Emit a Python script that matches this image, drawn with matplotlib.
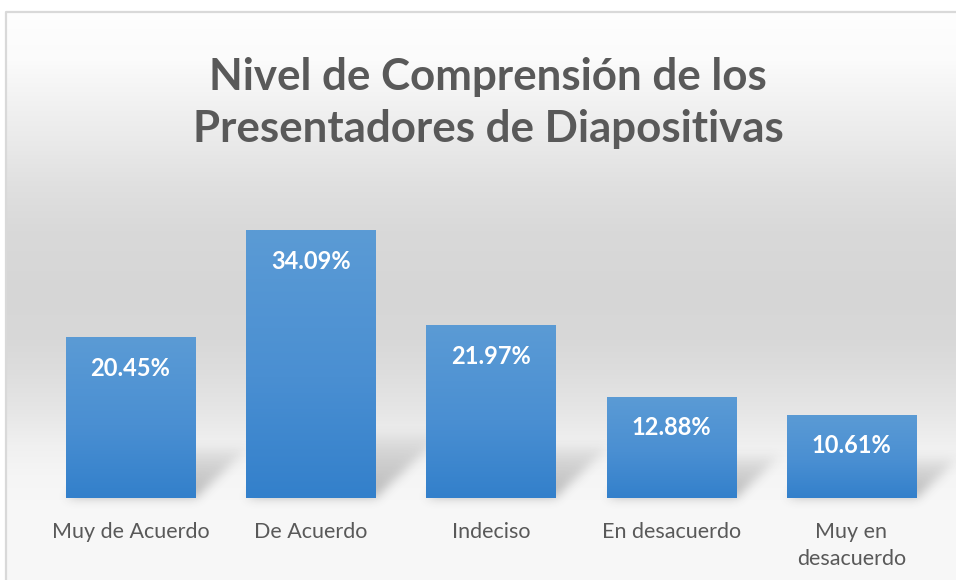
import numpy as np
import matplotlib
matplotlib.use("Agg")
import matplotlib.pyplot as plt
from matplotlib.colors import LinearSegmentedColormap

# ---------------- data ----------------
categories = ["Muy de Acuerdo", "De Acuerdo", "Indeciso", "En desacuerdo", "Muy en\ndesacuerdo"]
values = [20.45, 34.09, 21.97, 12.88, 10.61]
value_labels = ["20.45%", "34.09%", "21.97%", "12.88%", "10.61%"]
title_lines = ["Nivel de Comprensión de los", "Presentadores de Diapositivas"]

# ---------------- styling ----------------
W, H = 956, 580
FONT = ["Lato", "DejaVu Sans"]
TXT = "#595959"

fig = plt.figure(figsize=(W / 100, H / 100), dpi=100)
fig.patch.set_facecolor("white")

# background (chart area gradient + border)
bg = fig.add_axes([0, 0, 1, 1])
bg.set_axis_off()
bg.set_xlim(0, W)
bg.set_ylim(H, 0)
stops_y = [12, 60, 100, 150, 185, 230, 290, 340, 370, 410, 445, 475, 500, 580]
stops_v = [254, 251, 242, 232, 224, 217, 214, 216, 221, 230, 240, 245, 247, 248]
ys = np.arange(12, H)
gray = np.interp(ys, stops_y, stops_v) / 255.0
img = np.repeat(np.repeat(gray[:, None], W - 6, axis=1)[:, :, None], 3, axis=2)
bg.imshow(img, extent=(6, W, H, 12), aspect="auto", interpolation="bilinear", zorder=0)
bg.plot([6, 6, W + 5], [H + 5, 12, 12], color="#d9d9d9", lw=1.6, zorder=1, solid_capstyle="butt")

# main axes
left_px, right_px = 40.4, 941.6
base_px, top_px = 498.0, 183.6
ax = fig.add_axes([left_px / W, (H - base_px) / H, (right_px - left_px) / W, (base_px - top_px) / H])
ax.patch.set_alpha(0)
XMIN, XMAX, YMIN, YMAX = -0.5, 4.5, 0, 40
pxx = (right_px - left_px) / (XMAX - XMIN)
pxy = (base_px - top_px) / (YMAX - YMIN)

x = np.arange(len(categories))
bw = 0.716
bars = ax.bar(x, values, width=bw, color="#4a8fd2", zorder=3, linewidth=0)

# gradient fill for bars
cmap = LinearSegmentedColormap.from_list("barg", [(0, "#3380cb"), (0.45, "#4a8fd2"), (1, "#5b9bd5")])
grad = np.linspace(0, 1, 256)[:, None]
for xi, v, b in zip(x, values, bars):
    im = ax.imshow(grad, extent=(xi - bw / 2, xi + bw / 2, 0, v), origin="lower",
                   cmap=cmap, aspect="auto", zorder=3.5, interpolation="bilinear")
    im.set_clip_path(b)


def gblur(a, s):
    r = int(3 * s)
    k = np.exp(-0.5 * (np.arange(-r, r + 1) / s) ** 2)
    k /= k.sum()
    a = np.apply_along_axis(lambda m: np.convolve(m, k, mode="same"), 0, a)
    a = np.apply_along_axis(lambda m: np.convolve(m, k, mode="same"), 1, a)
    return a


# perspective shadows behind bars
for xi, v in zip(x, values):
    h_px = v * pxy
    hs = 30 + 0.13 * h_px
    dx = hs * 1.05
    w_px = bw * pxx
    padl, padb = 20, 12
    nx = int(w_px + dx + 45)
    ny = int(hs + 30)
    uu, vv = np.meshgrid(np.arange(nx) - padl, np.arange(ny) - padb)
    shift = vv * dx / hs
    inside = (vv >= 0) & (vv <= hs) & (uu >= shift) & (uu <= w_px + shift)
    prof = np.clip(1 - vv / hs, 0, 1) ** 0.6
    a = gblur(inside * prof, 5.0)
    rgba = np.zeros((ny, nx, 4))
    rgba[..., :3] = 0.25
    rgba[..., 3] = a * 0.33
    l = xi - bw / 2 - padl / pxx
    ax.imshow(rgba, extent=(l, l + nx / pxx, -padb / pxy, (ny - padb) / pxy), origin="lower",
              aspect="auto", zorder=1, interpolation="bilinear", clip_on=False)

for xi, v, lab in zip(x, values, value_labels):
    ax.annotate(lab, (xi, v), xytext=(0, -31 * 0.72), textcoords="offset points",
                ha="center", va="center", color="white", fontweight="bold",
                fontsize=17, family=FONT, zorder=5)

ax.set_xlim(XMIN, XMAX)
ax.set_ylim(YMIN, YMAX)
ax.set_xticks(x)
ax.set_xticklabels(categories, fontsize=15.5, color=TXT, family=FONT, linespacing=1.45)
ax.tick_params(axis="x", length=0, pad=17)
ax.set_yticks([])
for s in ax.spines.values():
    s.set_visible(False)

# title, fitted to the reference width
t1 = fig.text(488 / W, 1 - 90 / H, title_lines[0], ha="center", va="baseline",
              fontsize=30, fontweight="bold", color=TXT, family=FONT)
t2 = fig.text(488 / W, 1 - 142 / H, title_lines[1], ha="center", va="baseline",
              fontsize=30, fontweight="bold", color=TXT, family=FONT)
fig.canvas.draw()
r = fig.canvas.get_renderer()
wid = t1.get_window_extent(r).width
fs = 30 * 558 / wid
t1.set_fontsize(fs)
t2.set_fontsize(fs)

fig.savefig("out.png", dpi=100, facecolor="white")
